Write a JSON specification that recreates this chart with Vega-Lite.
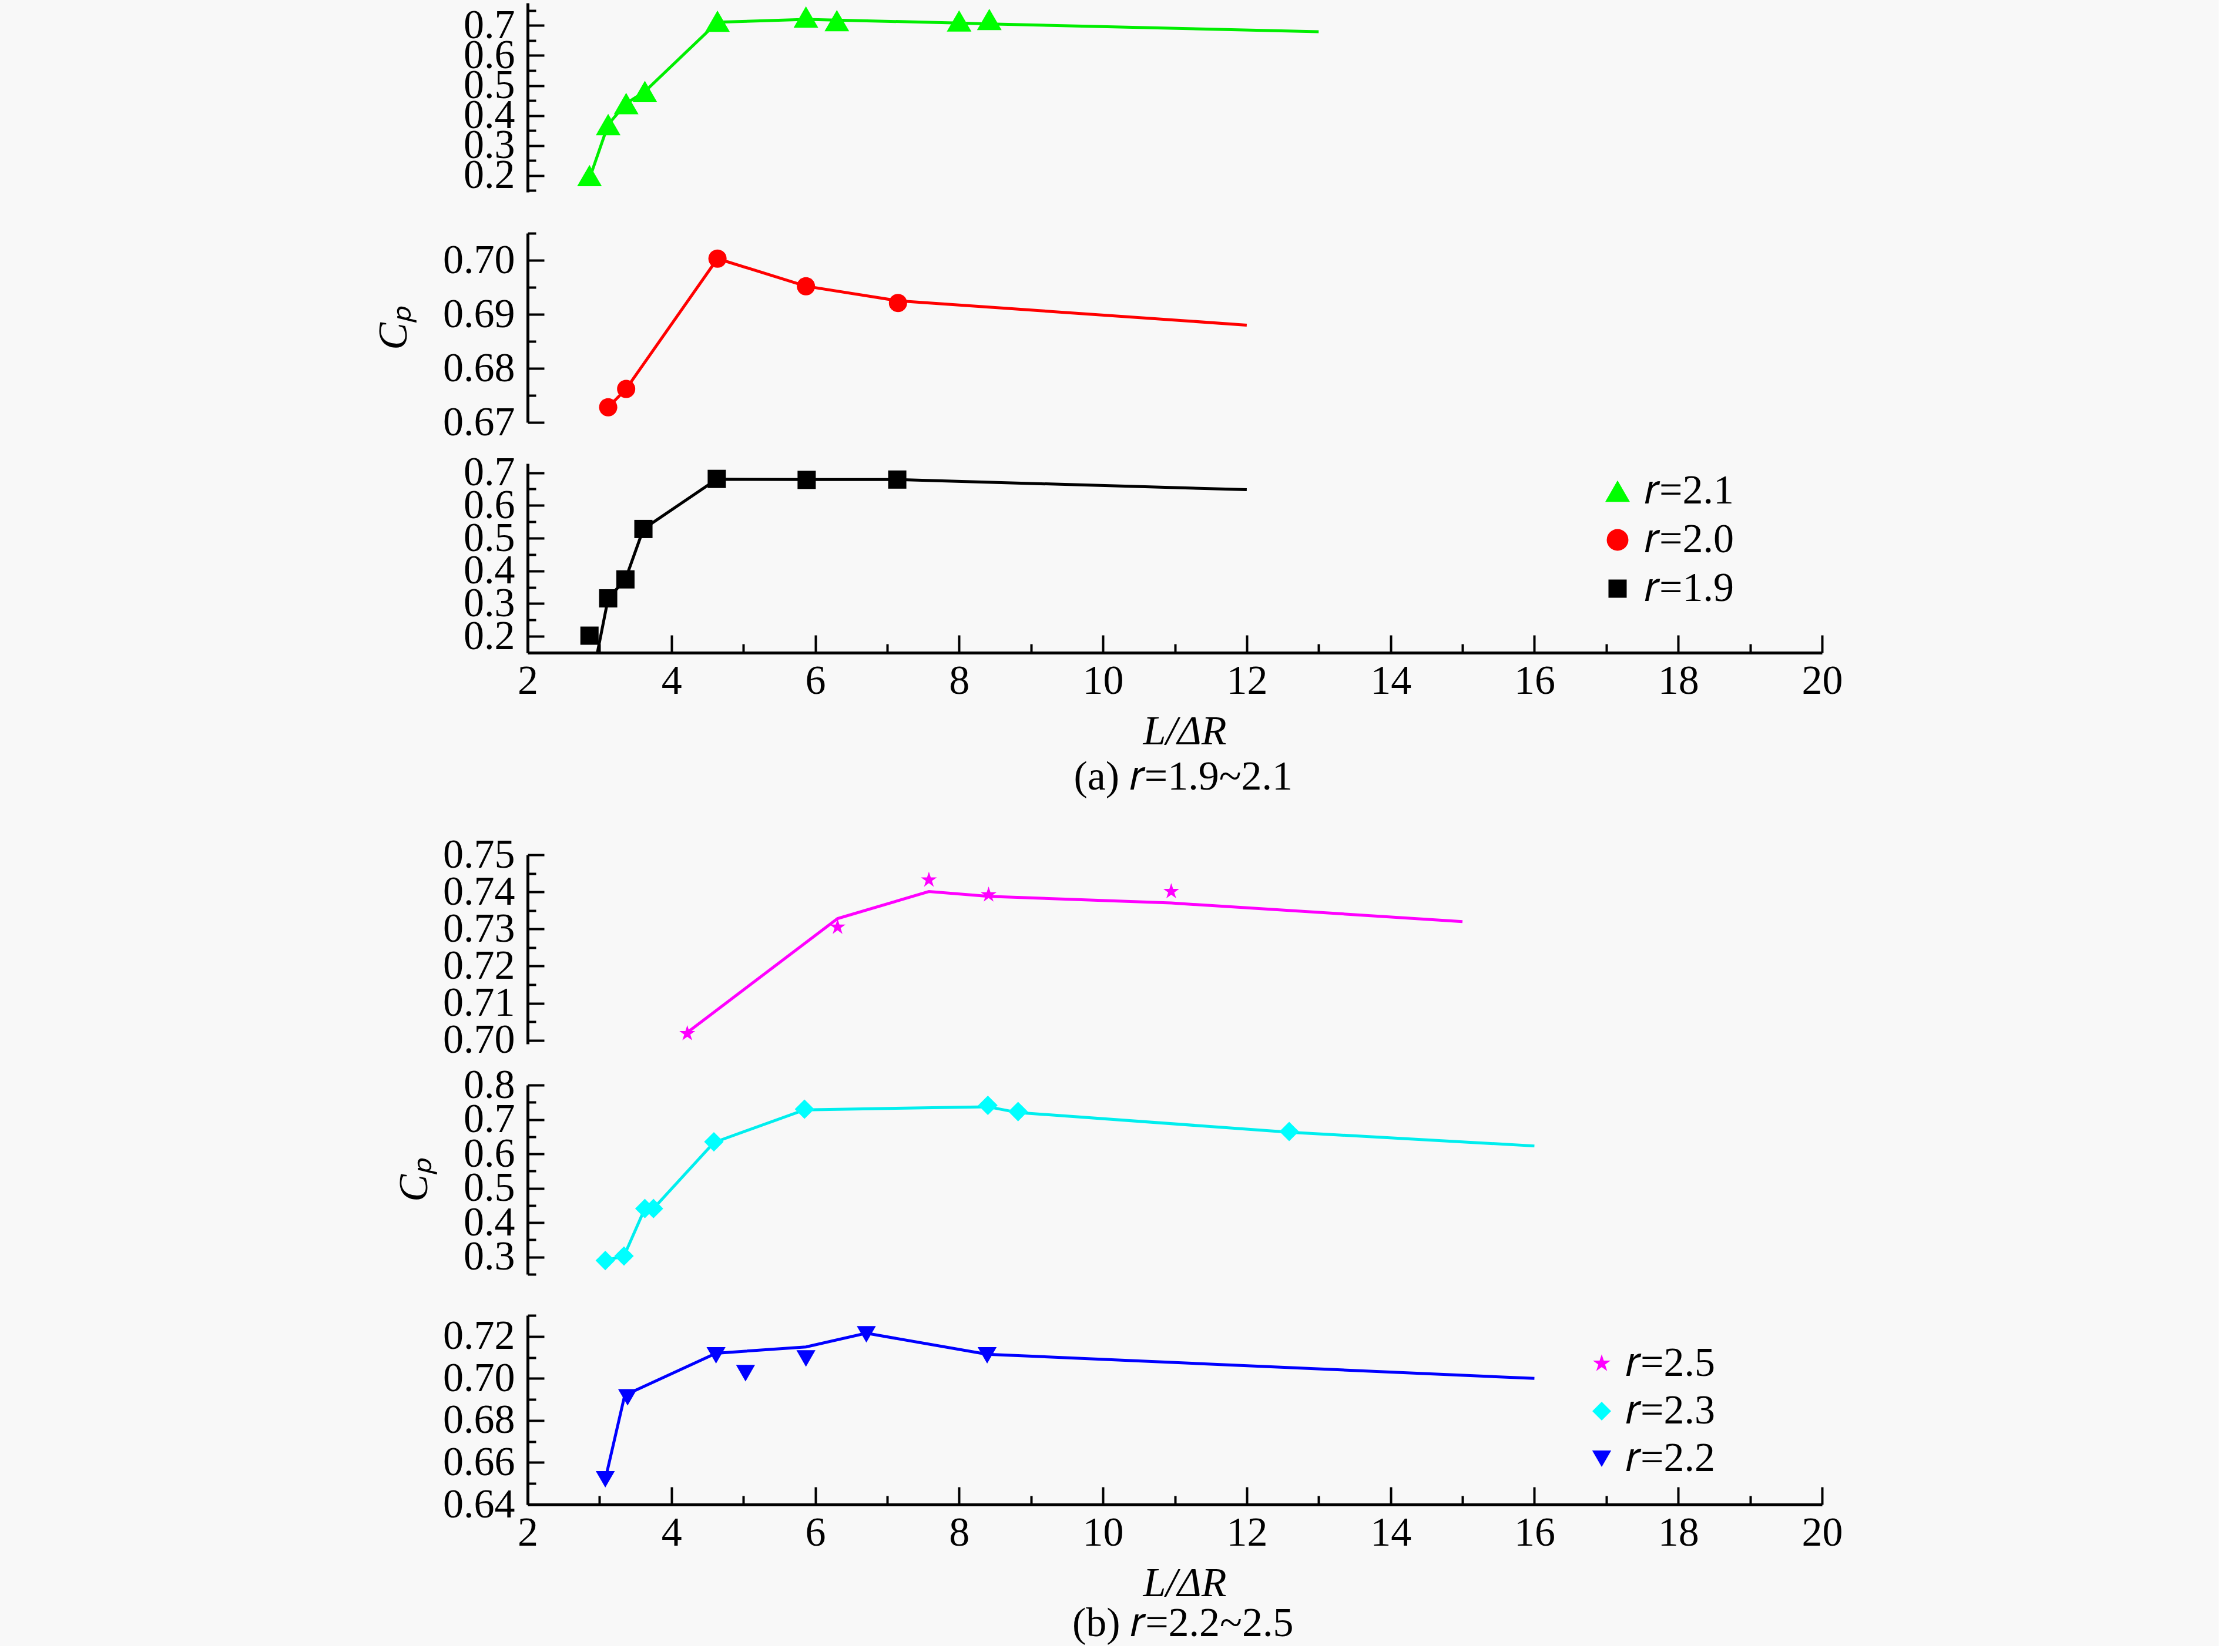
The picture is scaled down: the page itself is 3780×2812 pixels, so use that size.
{
  "$schema": "https://vega.github.io/schema/vega-lite/v6.json",
  "background": "#f8f8f8",
  "padding": {"left": 635, "top": 5, "right": 640, "bottom": 3},
  "datasets": {
    "lines": [
      {"s": "2.1", "x": 2.86, "cp": 0.19}, {"s": "2.1", "x": 3.12, "cp": 0.37}, {"s": "2.1", "x": 3.37, "cp": 0.44}, {"s": "2.1", "x": 3.63, "cp": 0.48}, {"s": "2.1", "x": 4.64, "cp": 0.711}, {"s": "2.1", "x": 5.87, "cp": 0.72}, {"s": "2.1", "x": 6.3, "cp": 0.718}, {"s": "2.1", "x": 8.0, "cp": 0.708}, {"s": "2.1", "x": 8.42, "cp": 0.705}, {"s": "2.1", "x": 13.0, "cp": 0.679},
      {"s": "2.0", "x": 3.12, "cp": 0.6728}, {"s": "2.0", "x": 3.37, "cp": 0.6762}, {"s": "2.0", "x": 4.64, "cp": 0.7003}, {"s": "2.0", "x": 5.87, "cp": 0.6952}, {"s": "2.0", "x": 7.15, "cp": 0.6925}, {"s": "2.0", "x": 12.0, "cp": 0.688},
      {"s": "1.9", "x": 2.97, "cp": 0.15}, {"s": "1.9", "x": 3.12, "cp": 0.316}, {"s": "1.9", "x": 3.36, "cp": 0.374}, {"s": "1.9", "x": 3.61, "cp": 0.528}, {"s": "1.9", "x": 4.63, "cp": 0.68}, {"s": "1.9", "x": 5.88, "cp": 0.679}, {"s": "1.9", "x": 7.14, "cp": 0.679}, {"s": "1.9", "x": 12.0, "cp": 0.648},
      {"s": "2.5", "x": 4.22, "cp": 0.7021}, {"s": "2.5", "x": 6.31, "cp": 0.7328}, {"s": "2.5", "x": 7.58, "cp": 0.7401}, {"s": "2.5", "x": 8.41, "cp": 0.7388}, {"s": "2.5", "x": 10.95, "cp": 0.737}, {"s": "2.5", "x": 15.0, "cp": 0.732},
      {"s": "2.3", "x": 3.08, "cp": 0.29}, {"s": "2.3", "x": 3.34, "cp": 0.303}, {"s": "2.3", "x": 3.63, "cp": 0.441}, {"s": "2.3", "x": 3.75, "cp": 0.441}, {"s": "2.3", "x": 4.59, "cp": 0.633}, {"s": "2.3", "x": 5.85, "cp": 0.728}, {"s": "2.3", "x": 8.4, "cp": 0.737}, {"s": "2.3", "x": 8.82, "cp": 0.72}, {"s": "2.3", "x": 12.59, "cp": 0.663}, {"s": "2.3", "x": 16.0, "cp": 0.623},
      {"s": "2.2", "x": 3.08, "cp": 0.652}, {"s": "2.2", "x": 3.35, "cp": 0.692}, {"s": "2.2", "x": 4.62, "cp": 0.712}, {"s": "2.2", "x": 5.87, "cp": 0.715}, {"s": "2.2", "x": 6.71, "cp": 0.7215}, {"s": "2.2", "x": 8.39, "cp": 0.7115}, {"s": "2.2", "x": 16.0, "cp": 0.7}
    ],
    "points": [
      {"s": "2.1", "x": 2.86, "cp": 0.2}, {"s": "2.1", "x": 3.12, "cp": 0.37}, {"s": "2.1", "x": 3.37, "cp": 0.44}, {"s": "2.1", "x": 3.63, "cp": 0.48}, {"s": "2.1", "x": 4.64, "cp": 0.714}, {"s": "2.1", "x": 5.87, "cp": 0.728}, {"s": "2.1", "x": 6.3, "cp": 0.716}, {"s": "2.1", "x": 8.0, "cp": 0.715}, {"s": "2.1", "x": 8.42, "cp": 0.72},
      {"s": "2.0", "x": 3.12, "cp": 0.6728}, {"s": "2.0", "x": 3.37, "cp": 0.6762}, {"s": "2.0", "x": 4.64, "cp": 0.7003}, {"s": "2.0", "x": 5.87, "cp": 0.6952}, {"s": "2.0", "x": 7.15, "cp": 0.6921},
      {"s": "1.9", "x": 2.86, "cp": 0.202}, {"s": "1.9", "x": 3.12, "cp": 0.316}, {"s": "1.9", "x": 3.36, "cp": 0.374}, {"s": "1.9", "x": 3.61, "cp": 0.528}, {"s": "1.9", "x": 4.63, "cp": 0.681}, {"s": "1.9", "x": 5.88, "cp": 0.678}, {"s": "1.9", "x": 7.14, "cp": 0.679},
      {"s": "2.5", "x": 4.22, "cp": 0.7018}, {"s": "2.5", "x": 6.31, "cp": 0.7305}, {"s": "2.5", "x": 7.58, "cp": 0.7432}, {"s": "2.5", "x": 8.41, "cp": 0.7392}, {"s": "2.5", "x": 10.95, "cp": 0.7401},
      {"s": "2.3", "x": 3.08, "cp": 0.29}, {"s": "2.3", "x": 3.34, "cp": 0.303}, {"s": "2.3", "x": 3.63, "cp": 0.441}, {"s": "2.3", "x": 3.75, "cp": 0.441}, {"s": "2.3", "x": 4.59, "cp": 0.635}, {"s": "2.3", "x": 5.85, "cp": 0.73}, {"s": "2.3", "x": 8.4, "cp": 0.741}, {"s": "2.3", "x": 8.82, "cp": 0.723}, {"s": "2.3", "x": 12.59, "cp": 0.665},
      {"s": "2.2", "x": 3.08, "cp": 0.652}, {"s": "2.2", "x": 3.39, "cp": 0.691}, {"s": "2.2", "x": 4.62, "cp": 0.711}, {"s": "2.2", "x": 5.03, "cp": 0.7025}, {"s": "2.2", "x": 5.87, "cp": 0.7095}, {"s": "2.2", "x": 6.71, "cp": 0.721}, {"s": "2.2", "x": 8.39, "cp": 0.711}
    ]
  },
  "spacing": 62,
  "resolve": {"scale": {"color": "independent", "shape": "independent", "size": "independent"}},
  "vconcat": [
    {
      "bounds": "flush",
      "spacing": 70,
      "title": {"text": "(a) 𝑟=1.9~2.1", "orient": "bottom", "anchor": "middle", "offset": 9, "dx": 128},
      "resolve": {"scale": {"color": "independent", "shape": "independent", "size": "independent"}},
      "vconcat": [
        {
          "width": 2203, "height": 322,
          "resolve": {"axis": {"y": "independent"}},
          "layer": [
            {
              "data": {"name": "lines"},
              "transform": [{"filter": "datum.s == '2.1'"}],
              "mark": {"type": "line", "color": "#00ee00", "strokeWidth": 5},
              "encoding": {
                "x": {"field": "x", "type": "quantitative", "scale": {"domain": [2, 20], "nice": false}, "axis": null},
                "y": {"field": "cp", "type": "quantitative", "scale": {"domain": [0.145, 0.775], "nice": false, "zero": false},
                  "axis": {"orient": "left", "values": [0.2, 0.3, 0.4, 0.5, 0.6, 0.7], "format": ".1f", "tickSize": -28, "labelPadding": 50, "title": null}}
              }
            },
            {
              "data": {"name": "points"},
              "transform": [{"filter": "datum.s == '2.1'"}],
              "mark": {"type": "point", "shape": "triangle-up", "color": "#00ff00", "size": 1764},
              "encoding": {
                "x": {"field": "x", "type": "quantitative", "axis": null},
                "y": {"field": "cp", "type": "quantitative",
                  "axis": {"orient": "left", "values": [0.15, 0.25, 0.35, 0.45, 0.55, 0.65, 0.75], "labels": false, "domain": false, "tickSize": -14, "title": null}}
              }
            }
          ]
        },
        {
          "width": 2203, "height": 322,
          "resolve": {"axis": {"y": "independent"}},
          "layer": [
            {
              "data": {"name": "lines"},
              "transform": [{"filter": "datum.s == '2.0'"}],
              "mark": {"type": "line", "color": "#ff0000", "strokeWidth": 5},
              "encoding": {
                "x": {"field": "x", "type": "quantitative", "scale": {"domain": [2, 20], "nice": false}, "axis": null},
                "y": {"field": "cp", "type": "quantitative", "scale": {"domain": [0.67, 0.705], "nice": false, "zero": false},
                  "axis": {"orient": "left", "values": [0.67, 0.68, 0.69, 0.7], "format": ".2f", "tickSize": -28, "labelPadding": 50, "title": "Cₚ", "titleFontStyle": "italic", "titlePadding": 47}}
              }
            },
            {
              "data": {"name": "points"},
              "transform": [{"filter": "datum.s == '2.0'"}],
              "mark": {"type": "point", "shape": "circle", "color": "#ff0000", "size": 962},
              "encoding": {
                "x": {"field": "x", "type": "quantitative", "axis": null},
                "y": {"field": "cp", "type": "quantitative",
                  "axis": {"orient": "left", "values": [0.675, 0.685, 0.695, 0.705], "labels": false, "domain": false, "tickSize": -14, "title": null}}
              }
            }
          ]
        },
        {
          "width": 2203, "height": 322,
          "resolve": {"axis": {"x": "independent", "y": "independent"}},
          "layer": [
            {
              "data": {"name": "lines"},
              "transform": [{"filter": "datum.s == '1.9'"}],
              "mark": {"type": "line", "color": "#000000", "strokeWidth": 5},
              "encoding": {
                "x": {"field": "x", "type": "quantitative", "scale": {"domain": [2, 20], "nice": false},
                  "axis": {"orient": "bottom", "values": [2, 4, 6, 8, 10, 12, 14, 16, 18, 20], "format": "d", "tickSize": -30, "labelPadding": 44, "title": "L/ΔR", "titleFontStyle": "italic", "titlePadding": 17, "titleX": 1118}},
                "y": {"field": "cp", "type": "quantitative", "scale": {"domain": [0.15, 0.728], "nice": false, "zero": false},
                  "axis": {"orient": "left", "values": [0.2, 0.3, 0.4, 0.5, 0.6, 0.7], "format": ".1f", "tickSize": -28, "labelPadding": 50, "title": null}}
              }
            },
            {
              "data": {"name": "points"},
              "transform": [{"filter": "datum.s == '1.9'"}],
              "mark": {"type": "point"},
              "encoding": {
                "x": {"field": "x", "type": "quantitative",
                  "axis": {"orient": "bottom", "values": [3, 5, 7, 9, 11, 13, 15, 17, 19], "labels": false, "domain": false, "tickSize": -15, "title": null}},
                "y": {"field": "cp", "type": "quantitative",
                  "axis": {"orient": "left", "values": [0.25, 0.35, 0.45, 0.55, 0.65], "labels": false, "domain": false, "tickSize": -14, "title": null}},
                "color": {"field": "s", "type": "nominal",
                  "scale": {"domain": ["2.1", "2.0", "1.9"], "range": ["#00ff00", "#ff0000", "#000000"]},
                  "legend": {"orient": "none", "legendX": 1820, "legendY": 12, "title": null, "labelExpr": "'𝑟=' + datum.label", "labelOffset": 11, "rowPadding": 13, "padding": 0}},
                "shape": {"field": "s", "type": "nominal",
                  "scale": {"domain": ["2.1", "2.0", "1.9"], "range": ["triangle-up", "circle", "square"]}},
                "size": {"field": "s", "type": "nominal",
                  "scale": {"domain": ["2.1", "2.0", "1.9"], "range": [1764, 962, 1050]}}
              }
            }
          ]
        }
      ]
    },
    {
      "bounds": "flush",
      "spacing": 70,
      "title": {"text": "(b) 𝑟=2.2~2.5", "orient": "bottom", "anchor": "middle", "offset": 0, "dx": 110},
      "resolve": {"scale": {"color": "independent", "shape": "independent", "size": "independent"}},
      "vconcat": [
        {
          "width": 2203, "height": 322,
          "resolve": {"axis": {"y": "independent"}},
          "layer": [
            {
              "data": {"name": "lines"},
              "transform": [{"filter": "datum.s == '2.5'"}],
              "mark": {"type": "line", "color": "#ff00ff", "strokeWidth": 5},
              "encoding": {
                "x": {"field": "x", "type": "quantitative", "scale": {"domain": [2, 20], "nice": false}, "axis": null},
                "y": {"field": "cp", "type": "quantitative", "scale": {"domain": [0.699, 0.75], "nice": false, "zero": false},
                  "axis": {"orient": "left", "values": [0.7, 0.71, 0.72, 0.73, 0.74, 0.75], "format": ".2f", "tickSize": -28, "labelPadding": 50, "title": null}}
              }
            },
            {
              "data": {"name": "points"},
              "transform": [{"filter": "datum.s == '2.5'"}],
              "mark": {"type": "point", "shape": "M0,-1L0.225,-0.309L0.951,-0.309L0.363,0.118L0.588,0.809L0,0.382L-0.588,0.809L-0.363,0.118L-0.951,-0.309L-0.225,-0.309Z", "color": "#ff00ff", "size": 810},
              "encoding": {
                "x": {"field": "x", "type": "quantitative", "axis": null},
                "y": {"field": "cp", "type": "quantitative",
                  "axis": {"orient": "left", "values": [0.705, 0.715, 0.725, 0.735, 0.745], "labels": false, "domain": false, "tickSize": -14, "title": null}}
              }
            }
          ]
        },
        {
          "width": 2203, "height": 322,
          "resolve": {"axis": {"y": "independent"}},
          "layer": [
            {
              "data": {"name": "lines"},
              "transform": [{"filter": "datum.s == '2.3'"}],
              "mark": {"type": "line", "color": "#00eeee", "strokeWidth": 5},
              "encoding": {
                "x": {"field": "x", "type": "quantitative", "scale": {"domain": [2, 20], "nice": false}, "axis": null},
                "y": {"field": "cp", "type": "quantitative", "scale": {"domain": [0.25, 0.8], "nice": false, "zero": false},
                  "axis": {"orient": "left", "values": [0.3, 0.4, 0.5, 0.6, 0.7, 0.8], "format": ".1f", "tickSize": -28, "labelPadding": 50, "title": "Cₚ", "titleFontStyle": "italic", "titlePadding": 47}}
              }
            },
            {
              "data": {"name": "points"},
              "transform": [{"filter": "datum.s == '2.3'"}],
              "mark": {"type": "point", "shape": "diamond", "color": "#00ffff", "size": 1100},
              "encoding": {
                "x": {"field": "x", "type": "quantitative", "axis": null},
                "y": {"field": "cp", "type": "quantitative",
                  "axis": {"orient": "left", "values": [0.25, 0.35, 0.45, 0.55, 0.65, 0.75], "labels": false, "domain": false, "tickSize": -14, "title": null}}
              }
            }
          ]
        },
        {
          "width": 2203, "height": 322,
          "resolve": {"axis": {"x": "independent", "y": "independent"}},
          "layer": [
            {
              "data": {"name": "lines"},
              "transform": [{"filter": "datum.s == '2.2'"}],
              "mark": {"type": "line", "color": "#0000ff", "strokeWidth": 5},
              "encoding": {
                "x": {"field": "x", "type": "quantitative", "scale": {"domain": [2, 20], "nice": false},
                  "axis": {"orient": "bottom", "values": [2, 4, 6, 8, 10, 12, 14, 16, 18, 20], "format": "d", "tickSize": -30, "labelPadding": 44, "title": "L/ΔR", "titleFontStyle": "italic", "titlePadding": 17, "titleX": 1118}},
                "y": {"field": "cp", "type": "quantitative", "scale": {"domain": [0.64, 0.73], "nice": false, "zero": false},
                  "axis": {"orient": "left", "values": [0.64, 0.66, 0.68, 0.7, 0.72], "format": ".2f", "tickSize": -28, "labelPadding": 50, "title": null}}
              }
            },
            {
              "data": {"name": "points"},
              "transform": [{"filter": "datum.s == '2.2'"}],
              "mark": {"type": "point"},
              "encoding": {
                "x": {"field": "x", "type": "quantitative",
                  "axis": {"orient": "bottom", "values": [3, 5, 7, 9, 11, 13, 15, 17, 19], "labels": false, "domain": false, "tickSize": -15, "title": null}},
                "y": {"field": "cp", "type": "quantitative",
                  "axis": {"orient": "left", "values": [0.65, 0.67, 0.69, 0.71, 0.73], "labels": false, "domain": false, "tickSize": -14, "title": null}},
                "color": {"field": "s", "type": "nominal",
                  "scale": {"domain": ["2.5", "2.3", "2.2"], "range": ["#ff00ff", "#00ffff", "#0000ff"]},
                  "legend": {"orient": "none", "legendX": 1793, "legendY": 47, "title": null, "labelExpr": "'𝑟=' + datum.label", "labelOffset": 6, "rowPadding": 11, "padding": 0}},
                "shape": {"field": "s", "type": "nominal",
                  "scale": {"domain": ["2.5", "2.3", "2.2"], "range": ["M0,-1L0.225,-0.309L0.951,-0.309L0.363,0.118L0.588,0.809L0,0.382L-0.588,0.809L-0.363,0.118L-0.951,-0.309L-0.225,-0.309Z", "diamond", "triangle-down"]}},
                "size": {"field": "s", "type": "nominal",
                  "scale": {"domain": ["2.5", "2.3", "2.2"], "range": [1000, 1050, 1000]}}
              }
            }
          ]
        }
      ]
    }
  ],
  "config": {
    "font": "Liberation Serif",
    "view": {"stroke": null},
    "point": {"filled": true, "opacity": 1},
    "axis": {
      "labelFont": "Liberation Serif", "labelFontSize": 70, "labelColor": "#000000",
      "titleFont": "Liberation Serif", "titleFontSize": 70, "titleColor": "#000000", "titleFontWeight": "normal",
      "domainColor": "#000000", "domainWidth": 5, "tickColor": "#000000", "tickWidth": 4,
      "grid": false, "labelOverlap": false, "labelFlush": false, "labelBound": false
    },
    "legend": {
      "labelFont": "Liberation Serif", "labelFontSize": 70, "labelColor": "#000000", "symbolStrokeWidth": 0, "symbolOpacity": 1
    },
    "title": {"font": "Liberation Serif", "fontSize": 70, "fontWeight": "normal", "color": "#000000"}
  }
}
